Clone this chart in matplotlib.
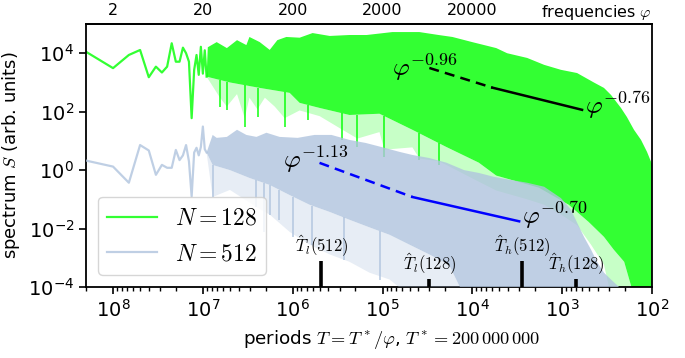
import numpy as np
import matplotlib
matplotlib.use("Agg")
import matplotlib.pyplot as plt

plt.rcParams['mathtext.fontset'] = 'cm'
plt.rcParams['font.family'] = ['DejaVu Sans']

T_STAR = 2e8

# ---- low-frequency part (individual spectral lines), phi = 1..22 ----
PHI_LINE = [1, 2, 3, 4, 5, 6, 7, 8, 9, 10, 11, 12, 13, 14, 15, 16, 17, 18, 19, 20, 21, 22]
S128_LINE = [11200, 3090, 8710, 12900, 1510, 3470, 2190, 3470, 21900, 5130, 5130,
             15500, 10000, 5130, 60, 2690, 8710, 1820, 16600, 2000, 12600, 1580]
S512_LINE = [2.12, 1.32, 0.37, 7.2, 4.7, 0.69, 1.51, 1.2, 1.2, 4.9, 2.2,
             3.2, 7.2, 2.0, 0.126, 4.0, 5.8, 3.2, 6.2, 31, 5.2, 4.0]

# ---- dense part: envelopes (phi, S) ----
G_TOP_PHI = [22, 22.7, 28.5, 37, 48, 61, 66, 86, 111, 135, 170, 239, 333, 517, 857, 1330,
             2578, 5140, 8430, 12000, 19950, 36900, 48800, 81500, 1.26e5, 1.94e5, 2.93e5,
             4.5e5, 5.84e5, 6.99e5, 9.03e5, 1.05e6, 1.26e6, 1.51e6, 1.76e6, 2.0e6]
G_TOP_S = [1580, 1.6e4, 2.4e4, 1.5e4, 2.8e4, 1.9e4, 3.6e4, 2.4e4, 1.3e4, 2.8e4, 3.6e4, 3.4e4,
           4.9e4, 3.9e4, 4.2e4, 4.2e4, 5.3e4, 5.3e4, 4.2e4, 3.6e4, 2.4e4, 1.5e4, 1.0e4, 6.9e3,
           4.0e3, 2.7e3, 2.1e3, 1.0e3, 650, 374, 134, 66, 24, 10.8, 4.2, 1.6]
G_CORE_PHI = [22, 40, 86, 185, 239, 400, 857, 1850, 4300, 10260, 23600, 36900, 1.1e5,
              2.37e5, 3.93e5, 5.84e5, 7.5e5, 9.8e5, 1.26e6, 2.0e6]
G_CORE_S = [1580, 1.0e3, 650, 440, 200, 134, 77, 85, 24, 6.2, 1.8, 0.65, 0.25,
            0.065, 0.017, 5.2e-3, 1.9e-3, 7.3e-4, 5e-5, 5e-5]
G_SPIKE_PHI = [22, 31, 37, 48, 58.5, 66, 81, 98, 126, 163, 239, 400, 700, 1052, 1850, 2100,
               4300, 5140, 8430, 10260, 23600, 36900, 81500, 1.26e5, 1.94e5, 2.93e5,
               4.19e5, 5.84e5, 6.99e5, 2.0e6]
G_SPIKE_S = [1580, 300, 150, 400, 60, 300, 120, 300, 150, 60, 110, 70, 25, 12, 20, 5,
             6, 2.5, 2, 1.5, 0.4, 0.2, 0.1, 0.065, 0.03, 0.013,
             2.8e-3, 5.8e-4, 5e-5, 5e-5]
# deepest individual dips of N = 128 visible in the picture
G_DIP_PHI = [30.8, 36.9, 58.4, 81.5, 163, 293, 699, 1052, 2100, 5140, 8430]
G_DIP_S = [145, 115, 30, 66, 30, 52, 10.8, 6.2, 2.8, 2.2, 1.5]

B_TOP_PHI = [22, 25.7, 28.5, 37, 48, 61, 79, 102, 143, 227, 350, 540, 857, 1300, 2100, 3100,
             4300, 6600, 10260, 16200, 23600, 34700, 53700, 81500, 1.26e5, 1.94e5, 2.51e5,
             2.93e5, 3.5e5, 4.19e5, 4.89e5, 5.84e5, 6.99e5, 8.6e5, 1.0e6]
B_TOP_S = [4.0, 16, 12.7, 13.7, 24, 16, 13.7, 19, 13.7, 12.7, 16, 16, 10.8, 8.5, 5.8, 4.2,
           3.3, 2.6, 1.8, 1.0, 0.8, 0.59, 0.46, 0.37, 0.27, 0.11, 0.044, 0.016, 5.2e-3,
           1.9e-3, 7.3e-4, 3.1e-4, 1.8e-4, 1e-4, 5e-5]
B_CORE_PHI = [22, 25.7, 40, 66, 111, 185, 309, 517, 857, 1430, 2400, 4000, 6640, 11000,
              16200, 1.0e6]
B_CORE_S = [4.0, 1.5, 1.0, 0.54, 0.31, 0.14, 0.065, 0.037, 0.02, 0.011, 6.1e-3, 2.8e-3,
            1.3e-3, 5.8e-4, 5e-5, 5e-5]
B_SPIKE_PHI = [22, 25.7, 40, 79, 111, 185, 309, 517, 857, 1430, 2400, 4000, 1.0e6]
B_SPIKE_S = [4.0, 0.12, 0.21, 0.055, 0.03, 7.7e-3, 2.8e-3, 1.3e-3, 7.3e-4, 3.1e-4, 1.8e-4,
             5e-5, 5e-5]
# deepest individual dips of N = 512 visible in the picture
B_DIP_PHI = [25.7, 79, 95, 111, 142, 200, 330, 740, 1880]
B_DIP_S = [0.12, 0.055, 7.4e-3, 0.03, 0.02, 5.2e-3, 2.8e-3, 8.5e-4, 1.8e-4]

# ---- power-law fits: breakpoints (phi), start value, exponents ----
FIT128_PHI = [6640, 33300, 333000]
FIT128_S0 = 3130
FIT128_EXP = [-0.96, -0.76]
FIT512_PHI = [398, 4300, 66400]
FIT512_S0 = 1.77
FIT512_EXP = [-1.13, -0.70]

# ---- characteristic periods ----
MARK_T = [4.78e5, 3.0e4, 2.8e3, 700]
MARK_TOP = [7.9e-4, 1.9e-4, 7.9e-4, 1.9e-4]
MARK_LABELS = [r'$\hat{T}_l(512)$', r'$\hat{T}_l(128)$', r'$\hat{T}_h(512)$', r'$\hat{T}_h(128)$']

TOP_TICKS = [2, 20, 200, 2000, 20000]

GREEN = 'lime'
BLUE = 'lightsteelblue'


def to_T(phi):
    return T_STAR / np.asarray(phi, dtype=float)


def band(ax, phi_a, s_a, phi_b, s_b, **kw):
    xs = np.concatenate([to_T(phi_a), to_T(phi_b)[::-1]])
    ys = np.concatenate([np.asarray(s_a, float), np.asarray(s_b, float)[::-1]])
    ax.fill(xs, ys, linewidth=0, **kw)


def core_at(phi, env_phi, env_s):
    # value of a drawn envelope edge at phi (log-log), used to attach dip lines
    return 10 ** np.interp(np.log10(phi), np.log10(env_phi), np.log10(env_s))


def fit_segments(phis, s0, exps):
    segs = []
    s = s0
    for i, e in enumerate(exps):
        p0, p1 = phis[i], phis[i + 1]
        s1 = s * (p1 / p0) ** e
        segs.append(([p0, p1], [s, s1]))
        s = s1
    return segs


fig = plt.figure(figsize=(6.85, 3.58), dpi=100)
ax = fig.add_axes([86 / 685, 71 / 358, 566 / 685, 263 / 358])
ax.set_xscale('log')
ax.set_yscale('log')

# N = 128
ax.plot(to_T(PHI_LINE), S128_LINE, color=GREEN, alpha=0.8, lw=1.6, zorder=2, label=r'$N = 128$')
band(ax, G_TOP_PHI, G_TOP_S, G_CORE_PHI, G_CORE_S, color=GREEN, alpha=0.8, zorder=2)
band(ax, G_CORE_PHI, G_CORE_S, G_SPIKE_PHI, G_SPIKE_S, color=GREEN, alpha=0.22, zorder=2)
ax.vlines(to_T(G_DIP_PHI), G_DIP_S, core_at(G_DIP_PHI, G_CORE_PHI, G_CORE_S),
          color=GREEN, alpha=0.8, lw=1.3, zorder=2)

# N = 512
ax.plot(to_T(PHI_LINE), S512_LINE, color=BLUE, alpha=0.8, lw=1.6, zorder=3, label=r'$N = 512$')
band(ax, B_TOP_PHI, B_TOP_S, B_CORE_PHI, B_CORE_S, color=BLUE, alpha=0.8, zorder=3)
band(ax, B_CORE_PHI, B_CORE_S, B_SPIKE_PHI, B_SPIKE_S, color=BLUE, alpha=0.3, zorder=3)
ax.vlines(to_T(B_DIP_PHI), B_DIP_S, core_at(B_DIP_PHI, B_CORE_PHI, B_CORE_S),
          color=BLUE, alpha=0.8, lw=1.3, zorder=3)

# fits
for (p, s), ls in zip(fit_segments(FIT128_PHI, FIT128_S0, FIT128_EXP), [(0, (4, 2.5)), '-']):
    ax.plot(to_T(p), s, color='black', lw=1.8, linestyle=ls, zorder=6)
for (p, s), ls in zip(fit_segments(FIT512_PHI, FIT512_S0, FIT512_EXP), [(0, (4, 2.5)), '-']):
    ax.plot(to_T(p), s, color='#0000ff', lw=1.8, linestyle=ls, zorder=6)

lab_kw = dict(fontsize=18.5, ha='left', va='center', zorder=7)
ax.text(7.76e4, 3.4e3, r'$\varphi^{-\mathbf{0.96}}$', **lab_kw)
ax.text(556, 170, r'$\varphi^{-\mathbf{0.76}}$', **lab_kw)
ax.text(1.29e6, 2.33, r'$\varphi^{-\mathbf{1.13}}$', **lab_kw)
ax.text(2.79e3, 0.0295, r'$\varphi^{-\mathbf{0.70}}$', **lab_kw)

# characteristic period markers
ax.vlines(MARK_T, 1e-4, MARK_TOP, color='black', lw=2.6, zorder=6)
for t, top, lab in zip(MARK_T, MARK_TOP, MARK_LABELS):
    ax.annotate(lab, (t, top), xytext=(0, 1), textcoords='offset points',
                ha='center', va='bottom', fontsize=12, zorder=7)

ax.set_xlim(T_STAR, 1e2)
ax.set_ylim(1e-4, 1e5)
ax.set_yticks([1e-4, 1e-2, 1, 1e2, 1e4])
ax.yaxis.set_minor_locator(matplotlib.ticker.NullLocator())
ax.tick_params(axis='both', which='major', length=5, width=1.2, labelsize=14)
ax.tick_params(axis='x', which='minor', length=3, width=1.0)
for sp in ax.spines.values():
    sp.set_linewidth(1.3)

ax.set_ylabel(r'spectrum $S$ (arb. units)', fontsize=13, labelpad=4)
ax.set_xlabel(r'periods $T = T^*/\varphi$, $T^* = 200\,000\,000$', fontsize=13.2, labelpad=5,
              x=0.54)

sec = ax.secondary_xaxis('top', functions=(lambda T: T_STAR / np.asarray(T, float),
                                            lambda p: T_STAR / np.asarray(p, float)))
sec.set_xticks(TOP_TICKS, labels=[str(v) for v in TOP_TICKS])
sec.xaxis.set_minor_locator(matplotlib.ticker.NullLocator())
sec.tick_params(axis='x', which='major', length=0, labelsize=11.5, pad=4)
sec.spines['top'].set_linewidth(1.3)
ax.text(1.0, 1.045, r'frequencies $\varphi$', transform=ax.transAxes, ha='right',
        va='center', fontsize=11.5)

leg = ax.legend(loc='lower left', fontsize=17, handlelength=2.1, handletextpad=0.75,
                borderaxespad=0.5, fancybox=True)
leg.set_zorder(10)

fig.savefig('out.png', dpi=100)
